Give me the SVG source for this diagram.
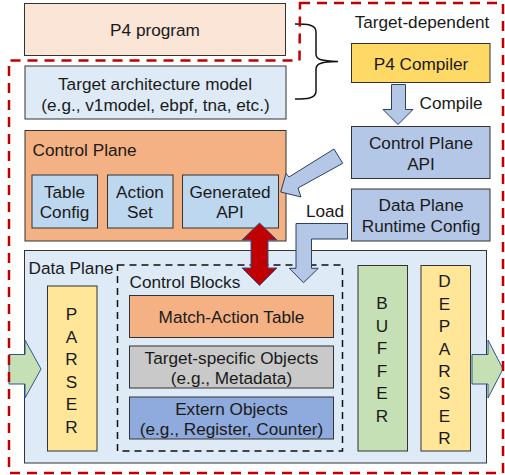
<svg xmlns="http://www.w3.org/2000/svg" width="505" height="475" viewBox="0 0 505 475">
<style>
text{font-family:"Liberation Sans",Arial,sans-serif;font-size:17.2px;fill:#1a1a1a;text-anchor:middle}
.l{text-anchor:start}
.b{stroke:#333;stroke-width:1}
.ar{fill:#b4c7e7;stroke:#2f3f5f;stroke-width:1}
.g{fill:#c5e0b4;stroke:#2f5597;stroke-width:1}
</style>
<rect width="505" height="475" fill="#fff"/>
<g id="p4-program"><rect class="b" x="24.5" y="3.5" width="261" height="52" fill="#fbe5d6"/><text x="155" y="36">P4 program</text></g>
<g id="target-arch"><rect class="b" x="25" y="66" width="261" height="53" fill="#deebf7"/><text x="155" y="90">Target architecture model</text><text x="155.500" y="110.500">(e.g., v1model, ebpf, tna, etc.)</text></g>
<g id="control-plane"><rect class="b" x="25" y="130.500" width="261" height="110.500" fill="#f4b183"/><text class="l" x="32.500" y="156">Control Plane</text></g>
<g id="table-config"><rect class="b" x="32" y="175" width="65.500" height="53" fill="#bdd7ee"/><text x="64.500" y="198">Table</text><text x="64.500" y="218">Config</text></g>
<g id="action-set"><rect class="b" x="107.500" y="175" width="65.500" height="53" fill="#bdd7ee"/><text x="140" y="198">Action</text><text x="140" y="218">Set</text></g>
<g id="generated-api"><rect class="b" x="182.500" y="175" width="96" height="53" fill="#bdd7ee"/><text x="230" y="198">Generated</text><text x="230" y="218">API</text></g>
<g id="p4-compiler"><rect class="b" x="351.500" y="43.500" width="138.500" height="39" fill="#ffd966"/><text x="421" y="69.500">P4 Compiler</text></g>
<g id="cp-api"><rect class="b" x="351.500" y="126.500" width="138.500" height="52" fill="#b4c7e7"/><text x="421" y="149">Control Plane</text><text x="421" y="170">API</text></g>
<g id="dp-config"><rect class="b" x="351.500" y="189" width="138.500" height="52" fill="#b4c7e7"/><text x="421" y="211">Data Plane</text><text x="421" y="232">Runtime Config</text></g>
<g id="data-plane"><rect class="b" x="24.500" y="250.500" width="462" height="212.500" fill="#deebf7"/><text class="l" x="28.500" y="274">Data Plane</text></g>
<g id="control-blocks"><rect x="117.500" y="265" width="225" height="186" fill="none" stroke="#111" stroke-width="1.500" stroke-dasharray="7 5"/><text class="l" x="129.500" y="287.500">Control Blocks</text></g>
<g id="parser"><rect class="b" x="47.500" y="286" width="49.500" height="165" fill="#ffe699"/><text x="71.500" y="320">P</text><text x="71.500" y="342.500">A</text><text x="71.500" y="365">R</text><text x="71.500" y="387.500">S</text><text x="71.500" y="410">E</text><text x="71.500" y="432.500">R</text></g>
<g id="match-action"><rect class="b" x="129.500" y="295.500" width="204" height="42" fill="#f4b183"/><text x="231.500" y="323">Match-Action Table</text></g>
<g id="target-objects"><rect class="b" x="129.500" y="346" width="204" height="42" fill="#c9c9c9"/><text x="231.500" y="364">Target-specific Objects</text><text x="231.500" y="384">(e.g., Metadata)</text></g>
<g id="extern-objects"><rect class="b" x="129.500" y="397" width="204" height="42" fill="#8faadc"/><text x="231.500" y="415">Extern Objects</text><text x="231.500" y="435">(e.g., Register, Counter)</text></g>
<g id="buffer"><rect class="b" x="358" y="265.500" width="49.500" height="185.500" fill="#c5e0b4"/><text x="382" y="309">B</text><text x="382" y="331.500">U</text><text x="382" y="354">F</text><text x="382" y="376.500">F</text><text x="382" y="399">E</text><text x="382" y="421.500">R</text></g>
<g id="deparser"><rect class="b" x="421" y="265.500" width="49.500" height="185.500" fill="#ffe699"/><text x="444.500" y="287">D</text><text x="444.500" y="309.500">E</text><text x="444.500" y="332">P</text><text x="444.500" y="354.500">A</text><text x="444.500" y="376.500">R</text><text x="444.500" y="399">S</text><text x="444.500" y="421.500">E</text><text x="444.500" y="444">R</text></g>
<g id="connectors">
<path class="g" d="M9 354.500H25V340L41 369L25 398V384H9Z"/>
<path class="g" d="M472 354.500H488V340L503 369L488 398V384H472Z"/>
<path class="ar" d="M391.500 84.500H405.500V109.500H413L398 124.500L383 109.500H391.500Z"/>
<path class="ar" d="M334 149L342.700 163.300L298 188L301 197L280.700 192L286 173.500L289 177Z"/>
<path class="ar" d="M296 223.500H347.500V239H311.500V268.300H318.300L303.500 282.700L289.300 268.300H296Z"/>
<path d="M259.500 223L277 240H268V268H277L259.500 285.500L242 268H251V240H242Z" fill="#c00000" stroke="#2f5597" stroke-width="1"/>
<path d="M295 24C306 24 316 24 316 32V54C316 60 322 61 338 61.500C322 62 316 63 316 69V91C316 99 306 99 295 99" fill="none" stroke="#111" stroke-width="1.500"/>
<path d="M300 3H503V473H9V60.500H299.500Z" fill="none" stroke="#c00000" stroke-width="2.500" stroke-dasharray="10 7"/>
</g>
<text id="label-target" x="422" y="28">Target-dependent</text>
<text id="label-compile" x="451" y="109">Compile</text>
<text id="label-load" x="325" y="217">Load</text>
</svg>
